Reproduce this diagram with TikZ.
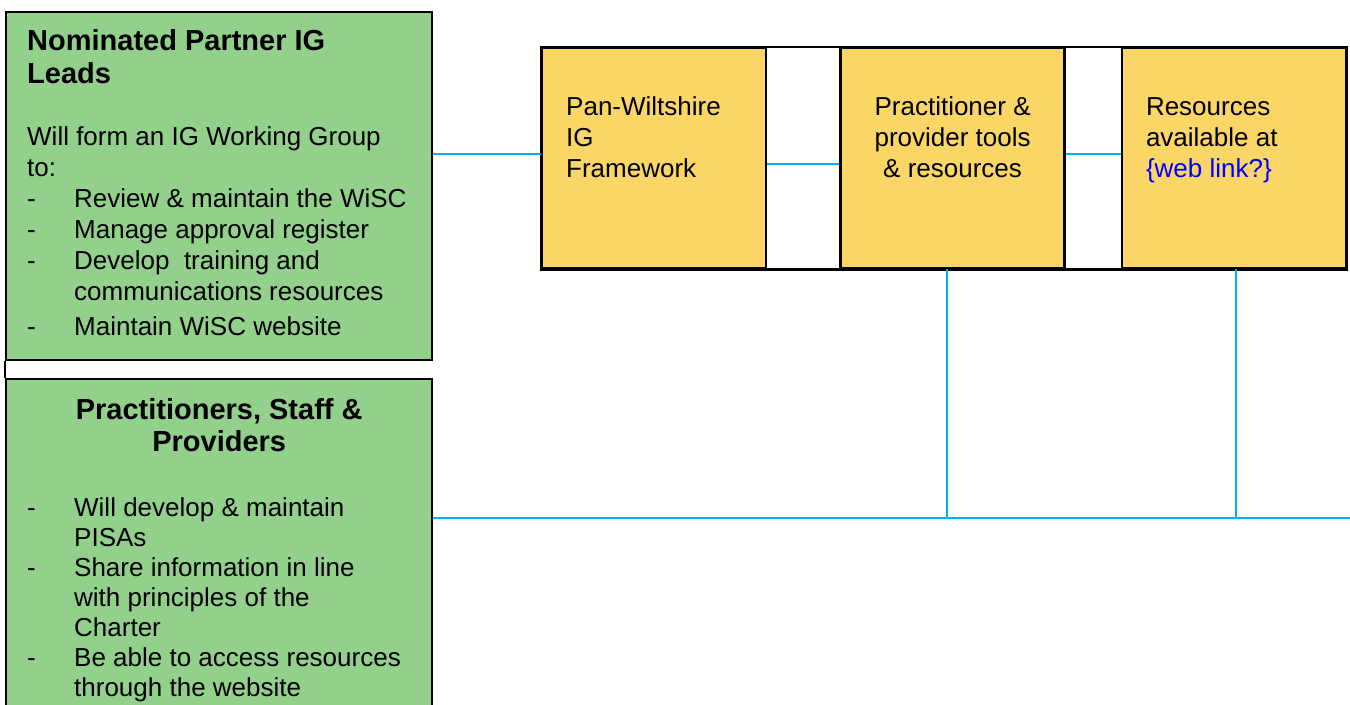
\documentclass[tikz,border=0pt]{standalone}
\usepackage{fontspec}
\setmainfont{Liberation Sans}
\usetikzlibrary{positioning}
\definecolor{leadgreen}{RGB}{146,208,140}
\definecolor{toolgold}{RGB}{249,214,101}
\definecolor{linkblue}{RGB}{0,176,240}
\newcommand{\dashitem}[1]{\par\hangindent=23.5pt\hangafter=1\noindent\makebox[23.5pt][l]{-}#1}
\begin{document}
\begin{tikzpicture}[x=0.5pt,y=-0.5pt,
	greenbox/.style={draw=black,line width=1.2pt,fill=leadgreen,anchor=north west,inner xsep=10.5pt,inner ysep=0pt,font=\fontsize{13}{15.5}\selectfont},
	yellowbox/.style={draw=black,line width=1.2pt,fill=toolgold,inner xsep=12pt,inner ysep=0pt,font=\fontsize{13}{15.5}\selectfont},
	link/.style={draw=linkblue,line width=1pt}]
		\useasboundingbox (0,0) rectangle (1350,705);
		% connectors
		\coordinate (busend) at (1350,518);
		% green boxes on the left
		\node[greenbox] (leads) at (5,11) {\parbox[t][174pt][t]{192pt}{\raggedright
			\rule{0pt}{19.25pt}{\fontsize{14.5}{16.5}\selectfont\bfseries Nominated Partner IG\\Leads\par}
			\vspace{15.4pt}
			Will form an IG Working Group\\to:
			\dashitem{Review \& maintain the WiSC}
			\dashitem{Manage approval register}
			\dashitem{Develop\ \ training and\newline communications resources}
			\par\vspace{2pt}
			\dashitem{Maintain WiSC website}}};
		\node[greenbox,font=\fontsize{13}{15}\selectfont] (staff) at (5,378) {\parbox[t][168.5pt][t]{192pt}{\raggedright
			{\centering\fontsize{14.5}{16}\selectfont\bfseries\rule{0pt}{20.2pt}Practitioners, Staff \&\\Providers\par}
			\vspace{17.5pt}
			\dashitem{Will develop \& maintain\newline PISAs}
			\dashitem{Share information in line\newline with principles of the\newline Charter}
			\dashitem{Be able to access resources\newline through the website}}};
		\draw[line width=1.2pt] (leads.south west) -- (staff.north west);
		% yellow row
		\node[yellowbox,anchor=north west] (fw) at (541,47) {\parbox[t][110pt][t]{88pt}{\raggedright\rule{0pt}{33.5pt}Pan-Wiltshire\\IG\\Framework}};
		\node[yellowbox,right=36pt of fw] (tools) {\parbox[t][110pt][t]{88pt}{\centering\rule{0pt}{33.5pt}Practitioner \&\\provider tools\\\& resources}};
		\node[yellowbox,right=27.5pt of tools] (res) {\parbox[t][110pt][t]{88pt}{\raggedright\rule{0pt}{33.5pt}Resources\\available at\\\textcolor{blue}{\{web link?\}}}};
		\draw[line width=1.2pt] (fw.north west) rectangle (res.south east);
		\draw[link] ([yshift=2pt]fw.west) -- ([yshift=2pt]fw.west -| leads.east);
		\draw[link] ([yshift=-3pt]fw.east) -- ([yshift=-3pt]fw.east -| tools.west);
		\draw[link] ([yshift=2pt]tools.east) -- ([yshift=2pt]tools.east -| res.west);
		\draw[link] (staff.east |- busend) -- (busend);
		\draw[link] ([xshift=-3pt]tools.south) -- ([xshift=-3pt]tools.south |- busend);
		\draw[link] ([xshift=0.75pt]res.south) -- ([xshift=0.75pt]res.south |- busend);
		\end{tikzpicture}
\end{document}
